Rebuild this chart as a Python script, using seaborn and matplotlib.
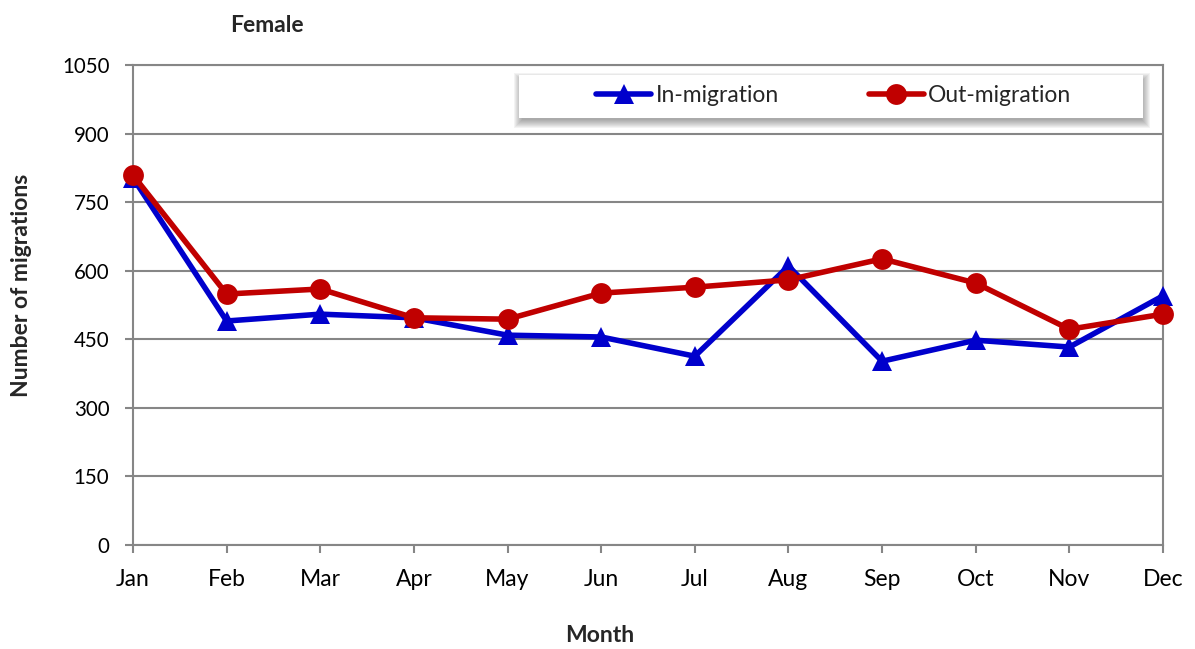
import matplotlib
matplotlib.use("Agg")
import matplotlib.pyplot as plt
from matplotlib.patches import Rectangle
import seaborn as sns
import pandas as pd

months = ["Jan", "Feb", "Mar", "Apr", "May", "Jun", "Jul", "Aug", "Sep", "Oct", "Nov", "Dec"]
in_migration = [803, 490, 505, 497, 459, 455, 413, 610, 402, 448, 433, 545]
out_migration = [809, 549, 560, 497, 494, 551, 564, 580, 626, 573, 472, 505]
y_ticks = [0, 150, 300, 450, 600, 750, 900, 1050]

sns.set_theme(style="white")
plt.rcParams["font.family"] = ["Lato", "DejaVu Sans"]

df = pd.DataFrame({
    "Month": months * 2,
    "Migrations": in_migration + out_migration,
    "Series": ["In-migration"] * 12 + ["Out-migration"] * 12,
})
df["pos"] = list(range(12)) * 2

W, H = 1195, 649
fig = plt.figure(figsize=(W / 100, H / 100), dpi=100)
ax = fig.add_axes([133 / W, 1 - 545 / H, 1030 / W, 480 / H])

palette = {"In-migration": "#0000CC", "Out-migration": "#C00000"}
markers = {"In-migration": "^", "Out-migration": "o"}
sizes = {"In-migration": 14, "Out-migration": 15}
for name, grp in df.groupby("Series", sort=False):
    sns.lineplot(data=grp, x="pos", y="Migrations", ax=ax, color=palette[name],
                 marker=markers[name], markersize=sizes[name], markeredgewidth=0,
                 linewidth=4, label=name, clip_on=False, zorder=3)

grid_c = "#868686"
fs = 16.5
ax.set_xlim(0, 11)
ax.set_ylim(0, 1050)
ax.set_xticks(range(12))
ax.set_xticklabels(months)
ax.set_yticks(y_ticks)
ax.set_yticklabels([str(v) for v in y_ticks])
ax.yaxis.grid(True, color=grid_c, linewidth=1.5)
ax.set_axisbelow(True)
for s in ax.spines.values():
    s.set_color(grid_c)
    s.set_linewidth(1.5)
ax.tick_params(axis="both", which="both", direction="out", length=6, width=1.5,
               color=grid_c, labelcolor="black", bottom=True, left=True)
ax.tick_params(axis="x", pad=11, labelsize=fs)
ax.tick_params(axis="y", pad=11, labelsize=14.8)
ax.set_xlabel("")
ax.set_ylabel("")

fig.text(22 / W, 1 - 285 / H, "Number of migrations", rotation=90, fontsize=fs,
         fontweight="bold", ha="center", va="center")
fig.text(600 / W, 1 - 636 / H, "Month", fontsize=fs, fontweight="bold",
         ha="center", va="center")
fig.text(267 / W, 1 - 26 / H, "Female", fontsize=fs, fontweight="bold",
         ha="center", va="center")

# Legend panel (pixel coordinates) with a soft drop shadow built from stacked layers
bx0, bx1, by_top, by_bot = 519, 1143, 75, 118
for r in range(6, -3, -1):
    fig.patches.append(Rectangle(
        (bx0 - r + 1, H - by_bot - 4 - r), (bx1 - bx0) + 2 * r, (by_bot - by_top) + 2 * r,
        transform=None, facecolor="#3a3a3a", edgecolor="none", alpha=0.06, zorder=4))
fig.patches.append(Rectangle((bx0, H - by_bot), bx1 - bx0, by_bot - by_top, transform=None,
                             facecolor="white", edgecolor="none", zorder=4.5))

leg = ax.legend(loc="center", bbox_to_anchor=(0.6806, 0.9355), ncol=2, frameon=False,
                fontsize=fs, handlelength=2.4, handletextpad=0.2, columnspacing=3.9,
                borderaxespad=0, borderpad=0)
leg.remove()
fig.legends.append(leg)
leg.set_zorder(5)

fig.savefig("out.png", dpi=100, facecolor="white")
